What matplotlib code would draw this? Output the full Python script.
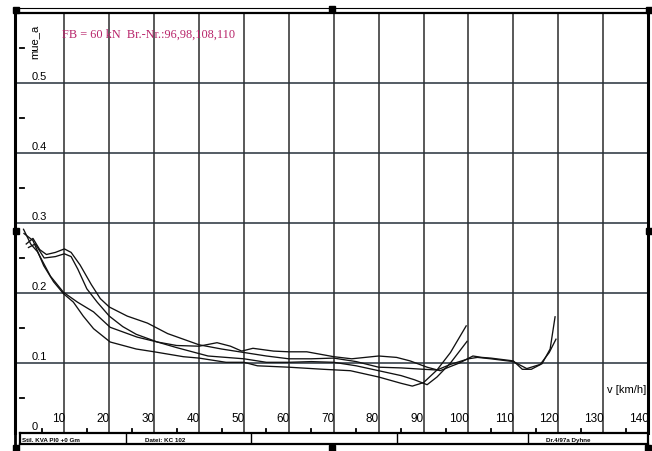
import numpy as np
import matplotlib.pyplot as plt
from matplotlib.lines import Line2D
from matplotlib.patches import Rectangle

# friction coefficient mue_a over speed v for four braking runs
v1 = [1.5, 3, 4.5, 6, 8, 10, 11.5, 13.5, 16, 18, 20, 24, 28.5, 33, 40, 45, 49, 55, 60, 65,
      70, 75, 80, 85, 90, 93, 96, 100, 102, 105, 110, 113, 116, 118, 119.5]
mue1 = [0.27, 0.278, 0.262, 0.255, 0.258, 0.263, 0.258, 0.24, 0.212, 0.192, 0.18, 0.167, 0.157,
        0.142, 0.126, 0.12, 0.116, 0.11, 0.106, 0.106, 0.107, 0.102, 0.094, 0.093, 0.091, 0.09,
        0.098, 0.106, 0.108, 0.106, 0.102, 0.092, 0.098, 0.115, 0.134]

v2 = [2, 3.5, 5.5, 8, 10, 11.5, 13, 15, 17.3, 20, 23, 26, 30.7, 35, 40, 44, 47, 49.5, 52, 56.6,
      60, 64, 70, 74, 80, 84, 87, 90.8, 93.7, 96, 98, 101, 103, 105, 110, 112, 114, 116.4,
      118.2, 119.3]
mue2 = [0.265, 0.27, 0.25, 0.252, 0.256, 0.252, 0.234, 0.206, 0.187, 0.167, 0.152, 0.141, 0.13,
        0.125, 0.124, 0.129, 0.124, 0.117, 0.121, 0.117, 0.116, 0.116, 0.109, 0.106, 0.110,
        0.108, 0.103, 0.094, 0.089, 0.095, 0.1, 0.11, 0.108, 0.107, 0.103, 0.091, 0.091, 0.099,
        0.12, 0.166]

v3 = [1, 3, 5.4, 7.6, 9.8, 12, 14.2, 16.5, 20.2, 26, 30, 36.5, 40, 46, 50, 53, 60, 67.7, 73.7,
      80, 85, 87.5, 90, 93, 96, 99.5]
mue3 = [0.285, 0.275, 0.239, 0.216, 0.199, 0.187, 0.167, 0.149, 0.13, 0.12, 0.116, 0.109, 0.107,
        0.101, 0.101, 0.096, 0.094, 0.091, 0.089, 0.08, 0.071, 0.067, 0.072, 0.09, 0.115, 0.153]

v4 = [0.9, 2.5, 4, 6.9, 9.8, 12.9, 16.5, 20.2, 26.2, 30.7, 35, 42, 46, 50, 55, 60, 65, 70, 75,
      80, 85, 88, 90.8, 93, 96, 99.7]
mue4 = [0.291, 0.27, 0.259, 0.224, 0.201, 0.187, 0.173, 0.151, 0.137, 0.13, 0.122, 0.11, 0.108,
        0.106, 0.101, 0.101, 0.102, 0.101, 0.096, 0.089, 0.082, 0.076, 0.069, 0.08, 0.1, 0.131]

x_ticks = [10, 20, 30, 40, 50, 60, 70, 80, 90, 100, 110, 120, 130, 140]
y_ticks = [0, 0.1, 0.2, 0.3, 0.4, 0.5]
y_labels = ['0', '0.1', '0.2', '0.3', '0.4', '0.5']
footer_cells = ['Stil. KVA Pl0 +0 Gm', 'Datei: KC 102', '', '', 'Dr.4/97a Dyhne']

W, H = 652, 452
fig = plt.figure(figsize=(W / 100, H / 100), dpi=100)


def fx(px):
    return px / W


def fy(py):
    return 1 - py / H


ax = fig.add_axes([fx(15), fy(434), fx(648) - fx(15), fy(14) - fy(434)])
ax.set_xlim(-1, 140)
ax.set_ylim(0, 0.6)
ax.set_xticks([])
ax.set_yticks([])
for side in ['left', 'right']:
    ax.spines[side].set_linewidth(2.2)
ax.spines['top'].set_linewidth(1.6)
ax.spines['bottom'].set_visible(False)

grid_kw = dict(color='#2b2b2b', lw=1.1, zorder=1)
for x in x_ticks[:-1]:
    ax.axvline(x, **grid_kw)
for y in y_ticks[1:]:
    ax.axhline(y, color='#26303a', lw=1.1, zorder=1)

# minor tick dashes inside the plot
for y in np.arange(0.05, 0.6, 0.1):
    ax.plot([0.2, 1.0], [y, y], color='black', lw=1.3, zorder=2)
for x in np.arange(5, 140, 10):
    ax.plot([x, x], [0, 0.006], color='black', lw=1.3, zorder=2)

font = 'Liberation Sans'
for y, lab in zip(y_ticks, y_labels):
    ax.text(2.8, y + 0.003, lab, ha='left', va='bottom', fontsize=8, family=font)
for x in x_ticks:
    ax.text(x + 0.1, 0.013, str(x), ha='right', va='bottom', fontsize=8.5, family=font)

for v, mue in [(v1, mue1), (v2, mue2), (v3, mue3), (v4, mue4)]:
    ax.plot(v, mue, color='#111111', lw=0.95, zorder=3)

ax.text(3.3, 0.56, 'mue_a', rotation=90, ha='center', va='center', fontsize=8, family=font)
ax.text(9.5, 0.571, 'FB = 60 kN  Br.-Nr.:96,98,108,110', ha='left', va='center',
        fontsize=8.8, family='Liberation Serif', color='#b8246a')
ax.text(139.6, 0.063, 'v [km/h]', ha='right', va='center', fontsize=8, family=font)

# footer strip with text cells
fa = fig.add_axes([fx(20), fy(445), fx(648) - fx(20), (445 - 434) / H])
fa.set_xlim(20, 648)
fa.set_ylim(0, 1)
fa.set_xticks([])
fa.set_yticks([])
for s in fa.spines.values():
    s.set_linewidth(1.6)
cell_edges = [20, 126, 251, 397, 528, 648]
text_x = [22, 145, None, None, 546]
for xe in cell_edges[1:-1]:
    fa.axvline(xe, color='black', lw=1.0)
for tx, txt in zip(text_x, footer_cells):
    if txt:
        fa.text(tx, 0.45, txt, ha='left', va='center',
                fontsize=4.5, family=font, fontweight='bold')

# outer frame: second top line and selection handles
fig.add_artist(Line2D([fx(15), fx(650)], [fy(9), fy(9)], color='black', lw=0.8))
fig.add_artist(Line2D([fx(15), fx(15)], [fy(9), fy(450)], color='black', lw=2.0))
for hx, hy in [(16, 11), (332, 10), (649, 11), (16, 232), (649, 232), (16, 449), (332, 449), (648, 449)]:
    fig.add_artist(Rectangle((fx(hx - 3), fy(hy + 3)), 6 / W, 6 / H, color='black'))

plt.savefig('out.png', dpi=100)
